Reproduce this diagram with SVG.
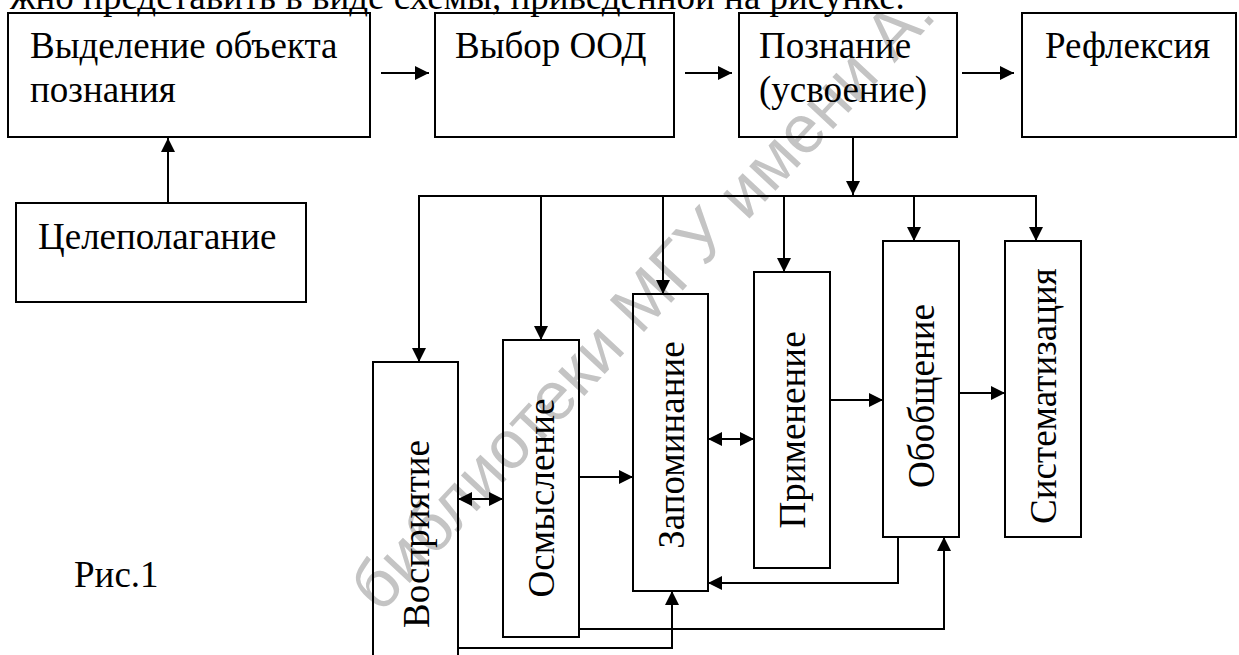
<svg xmlns="http://www.w3.org/2000/svg" width="1239" height="655" viewBox="0 0 1239 655">
<style>
.box{fill:none;stroke:#000;stroke-width:2}
.t{font-family:"Liberation Serif","Times New Roman",serif;font-size:37px;fill:#000}
.c{fill:none;stroke:#000;stroke-width:2}
.wm{font-family:"Liberation Sans",Arial,sans-serif;font-size:68px;fill:#c4c4c4}
</style>
<defs>
<marker id="ah" viewBox="0 0 14 14" markerUnits="userSpaceOnUse" markerWidth="14" markerHeight="14" refX="14" refY="7" orient="auto-start-reverse">
<path d="M0,0 L14,7 L0,14 z" fill="#000"/>
</marker>
</defs>
<rect width="1239" height="655" fill="#fff"/>
<g id="watermark">
<text class="wm" transform="translate(380,615) rotate(-47)">библиотеки МГУ имени А.</text>
</g>
<text class="t" x="10" y="9">жно представить в виде схемы, приведенной на рисунке.</text>
<g id="n-vydelenie">
<rect class="box" x="8" y="13" width="362" height="124"/>
<text class="t" x="30" y="58">Выделение объекта</text>
<text class="t" x="30" y="102">познания</text>
</g>
<g id="n-vybor">
<rect class="box" x="435" y="13" width="239" height="124"/>
<text class="t" x="455" y="58">Выбор ООД</text>
</g>
<g id="n-poznanie">
<rect class="box" x="739" y="13" width="218" height="124"/>
<text class="t" x="759" y="58">Познание</text>
<text class="t" x="759" y="102">(усвоение)</text>
</g>
<g id="n-refleksiya">
<rect class="box" x="1022" y="13" width="214" height="124"/>
<text class="t" x="1045" y="58">Рефлексия</text>
</g>
<g id="n-celepolaganie">
<rect class="box" x="16" y="203" width="290" height="99"/>
<text class="t" x="38" y="249">Целеполагание</text>
</g>
<g id="n-vospriyatie">
<rect class="box" x="373" y="362" width="85" height="310"/>
<text class="t" text-anchor="middle" transform="translate(429,534) rotate(-90)">Восприятие</text>
</g>
<g id="n-osmyslenie">
<rect class="box" x="503" y="340" width="76" height="297"/>
<text class="t" text-anchor="middle" transform="translate(554,498) rotate(-90)">Осмысление</text>
</g>
<g id="n-zapominanie">
<rect class="box" x="633" y="294" width="75" height="297"/>
<text class="t" text-anchor="middle" transform="translate(684,445) rotate(-90)">Запоминание</text>
</g>
<g id="n-primenenie">
<rect class="box" x="754" y="272" width="76" height="296"/>
<text class="t" text-anchor="middle" transform="translate(805,430) rotate(-90)">Применение</text>
</g>
<g id="n-obobshchenie">
<rect class="box" x="883" y="241" width="76" height="296"/>
<text class="t" text-anchor="middle" transform="translate(934,396) rotate(-90)">Обобщение</text>
</g>
<g id="n-sistematizaciya">
<rect class="box" x="1005" y="241" width="76" height="296"/>
<text class="t" text-anchor="middle" transform="translate(1056,396) rotate(-90)">Систематизация</text>
</g>
<g id="caption">
<text class="t" x="74" y="587">Рис.1</text>
</g>
<g id="connectors">
<line class="c" x1="168" y1="203" x2="168" y2="138" marker-end="url(#ah)"/>
<line class="c" x1="381" y1="73" x2="429" y2="73" marker-end="url(#ah)"/>
<line class="c" x1="685" y1="73" x2="732" y2="73" marker-end="url(#ah)"/>
<line class="c" x1="962" y1="73" x2="1014" y2="73" marker-end="url(#ah)"/>
<line class="c" x1="853" y1="137" x2="853" y2="195" marker-end="url(#ah)"/>
<line class="c" x1="418" y1="196" x2="1037" y2="196"/>
<line class="c" x1="419" y1="196" x2="419" y2="362" marker-end="url(#ah)"/>
<line class="c" x1="541" y1="196" x2="541" y2="340" marker-end="url(#ah)"/>
<line class="c" x1="663" y1="196" x2="663" y2="294" marker-end="url(#ah)"/>
<line class="c" x1="784" y1="196" x2="784" y2="272" marker-end="url(#ah)"/>
<line class="c" x1="914" y1="196" x2="914" y2="241" marker-end="url(#ah)"/>
<line class="c" x1="1036" y1="196" x2="1036" y2="241" marker-end="url(#ah)"/>
<line class="c" x1="458" y1="499" x2="503" y2="499" marker-start="url(#ah)" marker-end="url(#ah)"/>
<line class="c" x1="579" y1="477" x2="633" y2="477" marker-end="url(#ah)"/>
<line class="c" x1="708" y1="439" x2="754" y2="439" marker-start="url(#ah)" marker-end="url(#ah)"/>
<line class="c" x1="830" y1="400" x2="883" y2="400" marker-end="url(#ah)"/>
<line class="c" x1="959" y1="393" x2="1005" y2="393" marker-end="url(#ah)"/>
<polyline class="c" points="898,537 898,583 708,583" marker-end="url(#ah)"/>
<polyline class="c" points="579,629 944,629 944,537" marker-end="url(#ah)"/>
<polyline class="c" points="458,648 672,648 672,591" marker-end="url(#ah)"/>
</g>
</svg>
